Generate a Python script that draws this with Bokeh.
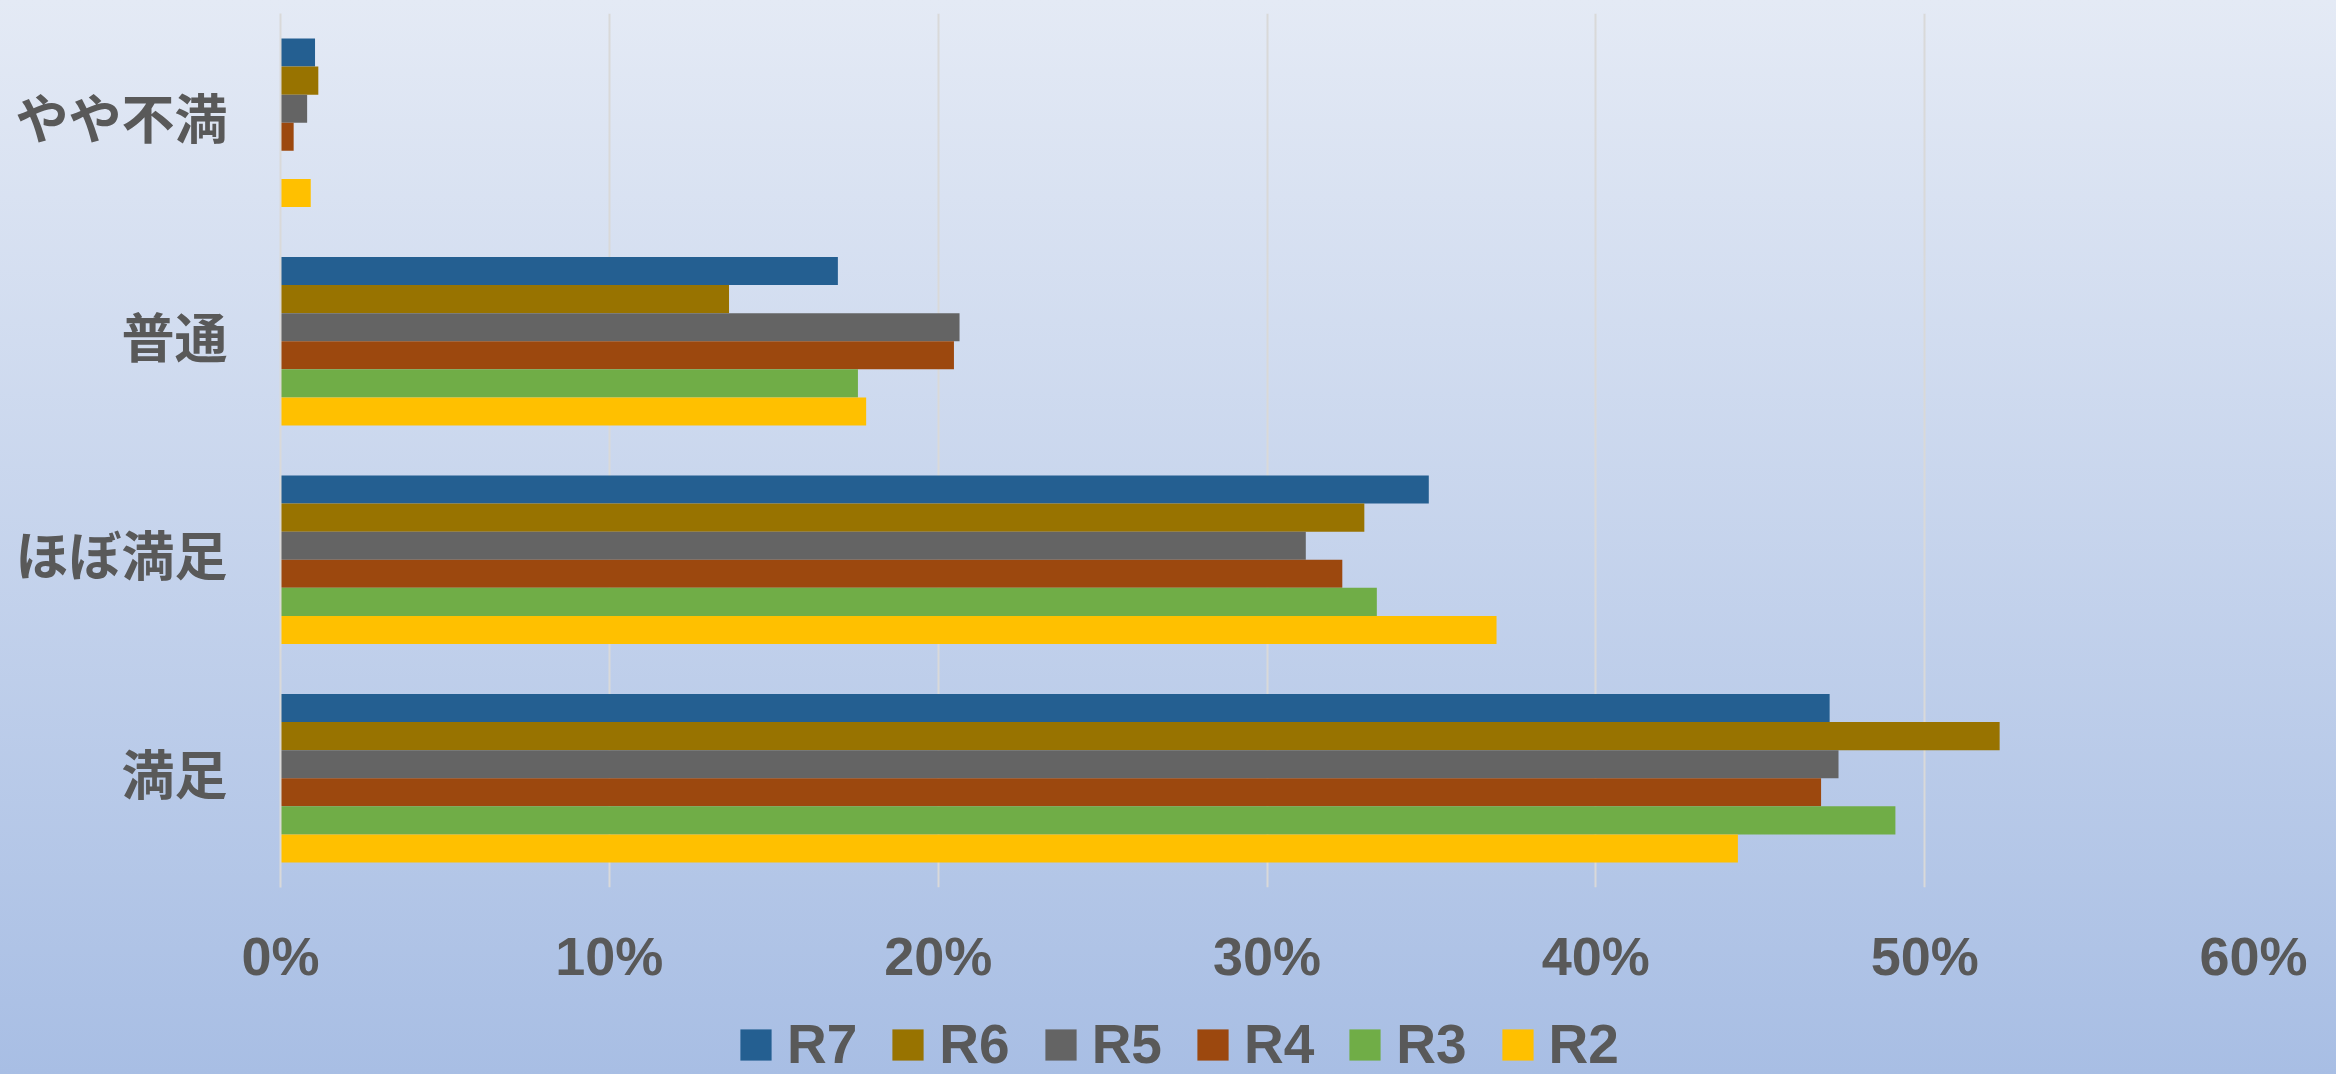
from bokeh.plotting import figure
from bokeh.layouts import column
from bokeh.models import (ColumnDataSource, Range1d, FixedTicker,
                          PrintfTickFormatter, Legend, LegendItem)
from bokeh.embed import file_html
from bokeh.resources import INLINE

# categories listed top to bottom
categories = ["やや不満", "普通", "ほぼ満足", "満足"]
series_names = ["R7", "R6", "R5", "R4", "R3", "R2"]
r7 = [1.05, 16.95, 34.92, 47.11]
r6 = [1.15, 13.64, 32.96, 52.28]
r5 = [0.81, 20.65, 31.18, 47.38]
r4 = [0.40, 20.48, 32.29, 46.85]
r3 = [0.0, 17.56, 33.34, 49.11]
r2 = [0.92, 17.81, 36.98, 44.32]
x_ticks = [0, 10, 20, 30, 40, 50, 60]

colors = ["#245F91", "#987300", "#646464", "#9C480E", "#70AD47", "#FFC000"]
LATIN = "'Liberation Sans Narrow', 'Liberation Sans', sans-serif"
CJK = "'Noto Sans CJK JP', sans-serif"
TXT = "#595959"

n = len(categories)
centers = [n - i - 0.5 for i in range(n)]          # category slot centres (top first)
series_vals = dict(R7=r7, R6=r6, R5=r5, R4=r4, R3=r3, R2=r2)

p = figure(width=2336, height=1000,
           y_range=Range1d(0, n), x_range=Range1d(0, 60),
           output_backend="svg", toolbar_location=None,
           min_border_left=280, min_border_right=83,
           min_border_top=13, min_border_bottom=113)
p.border_fill_color = None
p.background_fill_color = None
p.outline_line_color = None

bar_h = 0.1285
renderers = []
for k, (name, col) in enumerate(zip(series_names, colors)):
    off = (2.5 - k) * bar_h
    src = ColumnDataSource(dict(y=[c + off for c in centers], v=series_vals[name]))
    r = p.hbar(y="y", right="v", left=0, height=bar_h, source=src,
               fill_color=col, line_color=None)
    renderers.append(r)

# grid
p.ygrid.grid_line_color = None
p.xgrid.grid_line_color = "#d9d9d9"
p.xgrid.grid_line_width = 2
p.xaxis.ticker = FixedTicker(ticks=x_ticks)
p.xaxis.formatter = PrintfTickFormatter(format="%d%%")

# x axis
p.xaxis.axis_line_color = None
p.xaxis.major_tick_line_color = None
p.xaxis.minor_tick_line_color = None
p.xaxis.major_label_text_font = LATIN
p.xaxis.major_label_text_font_style = "bold"
p.xaxis.major_label_text_font_size = "54px"
p.xaxis.major_label_text_color = TXT
p.xaxis.major_label_standoff = 32

# y axis (category labels, nudged slightly up as in the original)
label_lift = 0.03
y_ticks = [c + label_lift for c in centers]
p.yaxis.ticker = FixedTicker(ticks=y_ticks, minor_ticks=[])
p.yaxis.major_label_overrides = {t: name for t, name in zip(y_ticks, categories)}
p.yaxis.axis_line_color = "#d9d9d9"
p.yaxis.axis_line_width = 2
p.yaxis.major_tick_line_color = None
p.yaxis.minor_tick_line_color = None
p.yaxis.major_label_text_font = CJK
p.yaxis.major_label_text_font_style = "bold"
p.yaxis.major_label_text_font_size = "53px"
p.yaxis.major_label_text_color = TXT
p.yaxis.major_label_standoff = 47

# legend strip below the chart
lf = figure(width=2336, height=74, x_range=Range1d(0, 1), y_range=Range1d(0, 1),
            x_axis_type=None, y_axis_type=None,
            output_backend="svg", toolbar_location=None,
            min_border=0)
lf.border_fill_color = None
lf.background_fill_color = None
lf.outline_line_color = None
lf.grid.visible = False
leg_renderers = []
for name, col in zip(series_names, colors):
    rr = lf.hbar(y=[-5], right=[0], left=[0], height=0.1, fill_color=col, line_color=None)
    leg_renderers.append(rr)

legend = Legend(items=[LegendItem(label=nm, renderers=[r]) for nm, r in zip(series_names, leg_renderers)],
                orientation="horizontal", location=(456, -2),
                glyph_width=39, glyph_height=39, label_standoff=12, spacing=31,
                padding=0, margin=0, border_line_color=None,
                background_fill_alpha=0,
                label_text_font=LATIN, label_text_font_style="bold",
                label_text_font_size="55px", label_text_color=TXT)
lf.add_layout(legend)

layout = column(p, lf, spacing=0)
layout.styles = {"background": "linear-gradient(180deg, #e4eaf5 0%, #a8bee4 100%)"}

open("out.html", "w").write(file_html(layout, INLINE))
